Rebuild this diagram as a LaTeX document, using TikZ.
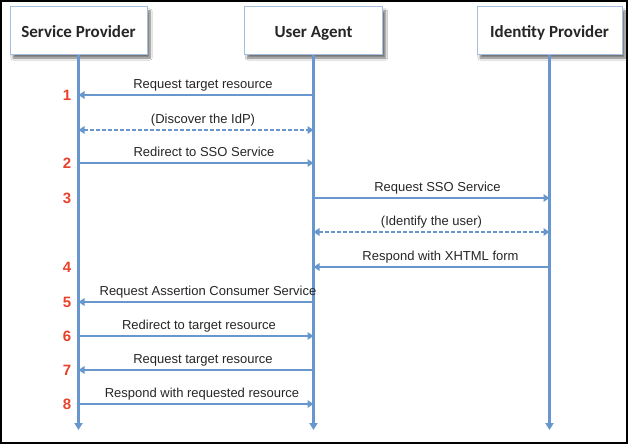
\documentclass[tikz,border=0pt]{standalone}
\usepackage{fontspec}
\setmainfont{Liberation Sans}
\newfontfamily\headfont{Carlito}
\usetikzlibrary{arrows.meta,shadows.blur}

\definecolor{lifeblue}{RGB}{103,151,204}
\definecolor{frameblue}{RGB}{165,192,222}
\definecolor{stepred}{RGB}{232,66,44}

\tikzstyle{party} = [draw=frameblue, line width=1pt, fill=white, minimum height=47pt, inner sep=0pt, text=black!85,
    text height=14pt, text depth=0pt,
    font=\headfont\bfseries\fontsize{17}{20}\selectfont,
    blur shadow={shadow xshift=3pt, shadow yshift=-4pt, shadow opacity=55, shadow blur steps=8}]
\tikzstyle{lifeline} = [draw=lifeblue, line width=2.2pt, -{Triangle[width=8pt,length=7pt]}]
\tikzstyle{call} = [draw=lifeblue, line width=1.7pt, -{Triangle[width=7.5pt,length=6pt]}]
\tikzstyle{talk} = [call, {Triangle[width=7.5pt,length=6pt]}-{Triangle[width=7.5pt,length=6pt]}, dash pattern=on 3.5pt off 2.5pt]
\tikzstyle{msg} = [anchor=base, inner sep=0pt, text=black!85, font=\fontsize{13}{15}\selectfont]
\tikzstyle{num} = [inner sep=0pt, text=stepred, font=\bfseries\fontsize{15}{17}\selectfont]

\begin{document}
\begin{tikzpicture}[x=1pt, y=-1pt]
\useasboundingbox (0,0) rectangle (628,444);
\fill[white] (0,0) rectangle (628,444);

\node (sp) [party, minimum width=137pt] at (78.5,30.5) {Service Provider};
\node (ua) [party, minimum width=138pt] at (313.5,30.5) {User Agent};
\node (idp) [party, minimum width=145pt] at (549.5,30.5) {Identity Provider};

\coordinate (spend) at (sp.south |- 0,430);
\coordinate (uaend) at (ua.south |- 0,430);
\coordinate (idpend) at (idp.south |- 0,430);
\draw[lifeline] (sp.south) -- (spend);
\draw[lifeline] (ua.south) -- (uaend);
\draw[lifeline] (idp.south) -- (idpend);

\foreach \y/\a/\b/\txt/\dx/\kind [count=\i] in {
    95/ua/sp/Request target resource/7/call,
    130/sp/ua/(Discover the IdP)/7/talk,
    163/sp/ua/Redirect to SSO Service/8/call,
    198/ua/idp/Request SSO Service/6/call,
    232/ua/idp/(Identify the user)/0/talk,
    267/idp/ua/Respond with XHTML form/9/call,
    302/ua/sp/Request Assertion Consumer Service/12/call,
    336/sp/ua/Redirect to target resource/3/call,
    370/ua/sp/Request target resource/7/call,
    404/sp/ua/Respond with requested resource/6/call}
{
    \coordinate (from\i) at (\a.south |- 0,\y);
    \coordinate (to\i) at (\b.south |- 0,\y);
    \draw[\kind] (from\i) -- (to\i)
        node (lbl\i) [msg, midway, xshift=\dx pt, yshift=7pt] {\txt};
}

\foreach \y/\n in {95/1,163/2,198/3,267/4,302/5,336/6,370/7,404/8}
    \node (n\n) [num] at (67,\y) {\n};

\draw[line width=2pt] (1,1) rectangle (627,443);
\end{tikzpicture}
\end{document}
